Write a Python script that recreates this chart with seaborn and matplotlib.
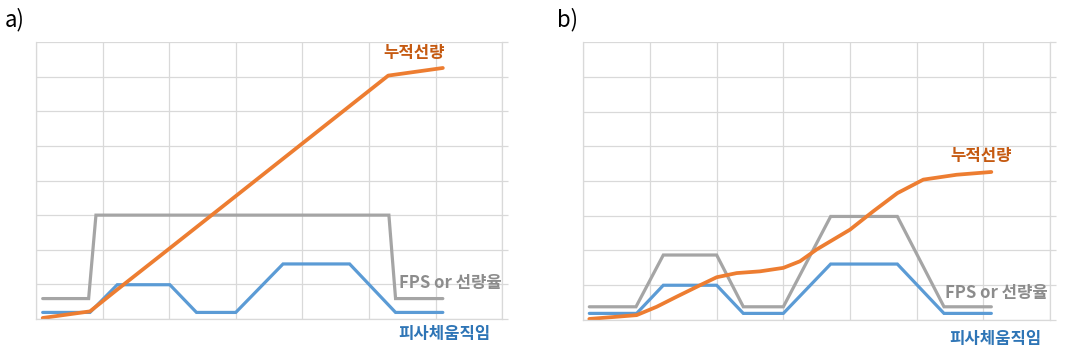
import numpy as np
import pandas as pd
import matplotlib
matplotlib.use("Agg")
import matplotlib.pyplot as plt
import seaborn as sns

# ---- data (grid units) ----
a_gray_x = [0.10, 0.79, 0.90, 5.30, 5.40, 6.11]
a_gray_y = [0.59, 0.59, 3.00, 3.00, 0.59, 0.59]
a_blue_x = [0.10, 0.81, 1.22, 2.01, 2.41, 3.00, 3.71, 4.71, 5.40, 6.11]
a_blue_y = [0.19, 0.19, 0.99, 0.99, 0.19, 0.19, 1.59, 1.59, 0.19, 0.19]
a_orange_x = [0.10, 0.81, 1.22, 2.00, 3.00, 4.00, 5.29, 6.11]
a_orange_y = [0.03, 0.22, 0.85, 2.03, 3.55, 5.07, 7.03, 7.25]

b_gray_x = [0.09, 0.79, 1.20, 2.00, 2.40, 3.00, 3.71, 4.71, 5.41, 6.12]
b_gray_y = [0.38, 0.38, 1.87, 1.87, 0.38, 0.38, 2.98, 2.98, 0.38, 0.38]
b_blue_x = [0.09, 0.80, 1.20, 2.00, 2.40, 3.00, 3.71, 4.71, 5.41, 6.12]
b_blue_y = [0.19, 0.19, 1.00, 1.00, 0.19, 0.19, 1.61, 1.61, 0.19, 0.19]
b_orange_x = [0.09, 0.80, 1.10, 1.40, 1.75, 2.00, 2.30, 2.65, 3.00, 3.25,
              3.50, 4.00, 4.35, 4.71, 5.10, 5.60, 6.12]
b_orange_y = [0.03, 0.14, 0.38, 0.67, 1.00, 1.23, 1.35, 1.40, 1.50, 1.69,
              2.03, 2.60, 3.13, 3.65, 4.04, 4.18, 4.26]

panel_labels = ["a)", "b)"]
label_dose = "누적선량"
label_fps = "FPS or 선량율"
label_motion = "피사체움직임"

# ---- styling ----
sns.set_theme(style="white")
plt.rcParams['font.family'] = ['Noto Sans CJK KR', 'DejaVu Sans']

C_ORANGE = "#ED7D31"
C_BLUE = "#5B9BD5"
C_GRAY = "#A5A5A5"
T_ORANGE = "#C55A11"
T_BLUE = "#2E75B6"
T_GRAY = "#8C8C8C"
GRID = "#D9D9D9"

fig = plt.figure(figsize=(10.66, 3.53), dpi=100)
ax_a = fig.add_axes([0.0338, 0.0963, 0.4372, 0.7847])
ax_b = fig.add_axes([0.5472, 0.0935, 0.4378, 0.7875])


def make_df(gx, gy, bx, by, ox, oy):
    frames = [
        pd.DataFrame({"x": gx, "y": gy, "s": "gray"}),
        pd.DataFrame({"x": bx, "y": by, "s": "blue"}),
        pd.DataFrame({"x": ox, "y": oy, "s": "orange"}),
    ]
    return pd.concat(frames, ignore_index=True)


pal = {"gray": C_GRAY, "blue": C_BLUE, "orange": C_ORANGE}

panels = [
    (ax_a, make_df(a_gray_x, a_gray_y, a_blue_x, a_blue_y, a_orange_x, a_orange_y),
     (5.68, 7.68), (7.0, 1.04), (6.14, -0.42)),
    (ax_b, make_df(b_gray_x, b_gray_y, b_blue_x, b_blue_y, b_orange_x, b_orange_y),
     (5.97, 4.73), (6.96, 0.77), (6.18, -0.55)),
]

for ax, df, pos_dose, pos_fps, pos_motion in panels:
    for key, lw in [("gray", 2.3), ("blue", 2.3), ("orange", 2.7)]:
        sub = df[df["s"] == key]
        sns.lineplot(data=sub, x="x", y="y", color=pal[key], lw=lw, ax=ax,
                     sort=False, estimator=None, legend=False,
                     solid_joinstyle="miter" if key != "orange" else "round")
    ax.set_xlim(0, 7)
    ax.set_ylim(0, 8)
    ax.set_xticks(np.arange(0, 8, 1))
    ax.set_yticks(np.arange(0, 9, 1))
    ax.set_xticklabels([])
    ax.set_yticklabels([])
    ax.set_xlabel("")
    ax.set_ylabel("")
    ax.grid(True, color=GRID, lw=0.9)
    ax.set_axisbelow(True)
    ax.tick_params(left=False, bottom=False, right=True, length=4,
                   color=GRID, width=0.9)
    for sp in ax.spines.values():
        sp.set_color(GRID)
        sp.set_linewidth(0.9)
    ax.spines["top"].set_visible(False)
    ax.text(pos_dose[0], pos_dose[1], label_dose, color=T_ORANGE,
            fontsize=12, fontweight="bold", ha="center", va="center")
    ax.text(pos_fps[0], pos_fps[1], label_fps, color=T_GRAY,
            fontsize=12, fontweight="bold", ha="right", va="center")
    ax.text(pos_motion[0], pos_motion[1], label_motion, color=T_BLUE,
            fontsize=12, fontweight="bold", ha="center", va="center",
            clip_on=False)

fig.text(5 / 1066, 1 - 20 / 353, panel_labels[0], fontsize=16, color="black",
         ha="left", va="center")
fig.text(557 / 1066, 1 - 20 / 353, panel_labels[1], fontsize=16, color="black",
         ha="left", va="center")

fig.savefig("out.png", dpi=100)
